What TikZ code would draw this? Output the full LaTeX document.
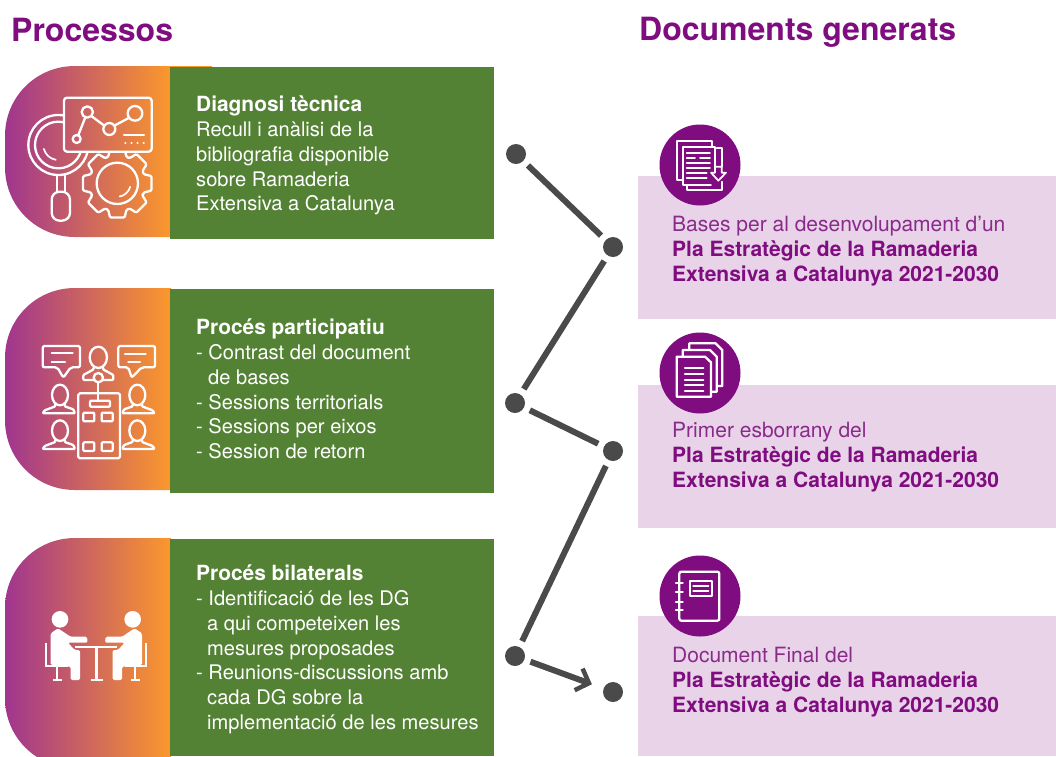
\documentclass[tikz,border=0pt]{standalone}
\usepackage{fontspec}
\setmainfont{TeX Gyre Heros}
\usetikzlibrary{arrows.meta}
\definecolor{purp}{HTML}{800D80}
\definecolor{gradL}{HTML}{A0358F}
\definecolor{gradR}{HTML}{FB982C}
\definecolor{greenb}{HTML}{548235}
\definecolor{pinkb}{HTML}{E8D3E8}
\definecolor{darkc}{HTML}{4A4A4A}
\definecolor{bodyp}{HTML}{8A2A8A}
\newcommand{\bhead}[1]{{\fontsize{20.9}{24.7}\selectfont\bfseries #1}}
\newcommand{\bpl}[1]{{\color{purp}\fontsize{21}{25}\selectfont\bfseries #1}}
\newcommand{\sideperson}{%
    \draw[icon] (0,0) ellipse[x radius=24,y radius=31];
    \draw[icon,rounded corners=1pt] (-14,27) -- (-14,34) -- (-46,46) -- (-52,55) -- (45,55) -- (40,43) -- (14,34) -- (14,27);
}
\newcommand{\sitperson}{%
    \fill[white] (-109,-62) circle[radius=25];
    \fill[white,rounded corners=1.5pt] (-137,-20) -- (-115,-35) -- (-95,-22) -- (-78,-10) -- (-28,-10) -- (-26,8) -- (-85,8) -- (-65,30) -- (-49,30) -- (-49,120) -- (-77,120) -- (-77,80) -- (-137,75) -- cycle;
    \draw[white,line width=1.8pt] (-150,10) -- (-150,78) -- (-85,78);
    \draw[white,line width=1.8pt] (-117,78) -- (-117,120);
    \draw[white,line width=1.8pt] (-130,120) -- (-104,120);
}
\tikzset{
  gradpanel/.style={left color=gradL,right color=gradR,shading angle=90},
  icon/.style={draw=white,line width=2.3pt,line join=round,line cap=round},
  iconthin/.style={draw=white,line width=1.7pt,line join=round,line cap=round},
  dotn/.style={circle,fill=darkc,minimum size=20pt,inner sep=0pt,outer sep=6.5pt},
  conn/.style={draw=darkc,line width=6pt},
  heading/.style={anchor=base west,inner sep=0pt,text=purp,font=\fontsize{32}{36}\selectfont\bfseries},
  greentext/.style={anchor=north west,inner sep=0pt,align=left,text=white,font=\fontsize{20.1}{24.7}\selectfont},
  pinktext/.style={anchor=north west,inner sep=0pt,align=left,text=bodyp,font=\fontsize{21}{25}\selectfont},
}
\begin{document}
\begin{tikzpicture}[x=1pt,y=-1pt]
\useasboundingbox (0,0) rectangle (1056,756);
\clip (0,0) rectangle (1056,756);
\fill[white] (0,0) rectangle (1056,756);

% left gradient panels
\shade[gradpanel] (171,66) -- (75,66) .. controls (36,66) and (5,97) .. (5,136) -- (5,167) .. controls (5,206) and (36,237) .. (75,237) -- (171,237) -- cycle;
\shade[gradpanel] (171,288) -- (75,288) .. controls (36,288) and (5,319) .. (5,358) -- (5,420) .. controls (5,459) and (36,490) .. (75,490) -- (171,490) -- cycle;
\shade[gradpanel] (171,538) -- (75,538) .. controls (36,538) and (5,569) .. (5,608) -- (5,698) .. controls (5,737) and (36,768) .. (75,768) -- (171,768) -- cycle;
\fill[gradR] (170,66) rectangle (212,67);
% green boxes
\fill[greenb] (170,67) rectangle (494,239);
\fill[greenb] (170,289) rectangle (494,493);
\fill[greenb] (170,539) rectangle (494,756);
% pink boxes
\fill[pinkb] (638,176) rectangle (1056,319);
\fill[pinkb] (638,385) rectangle (1056,528);
\fill[pinkb] (638,616) rectangle (1056,756);
% purple discs
\fill[purp] (700,165) circle[radius=40.5];
\fill[purp] (700,373) circle[radius=40.5];
\fill[purp] (700,596) circle[radius=40.5];

% icon 1: chart, magnifier, gear
\begin{scope}[shift={(0,50)},scale=1/3]
  \begin{scope}[even odd rule]
    \clip (0,0) rectangle (600,600) (192,143) rectangle (455,305);
    \begin{scope}[even odd rule]
      \clip (0,0) rectangle (600,600) (175,285) circle[radius=92];
      \begin{scope}[shift={(352,400)}]
      \draw[icon,rounded corners=1.2pt] (-12:105) -- (12:105) -- (19:84) -- (26:84)
        \foreach \a in {45,90,...,315} { -- (\a-19:84) -- (\a-12:105) -- (\a+12:105) -- (\a+19:84)} -- (-19:84) -- cycle;
      \draw[icon] (0,0) circle[radius=62];
      \draw[iconthin] (15:40) arc[start angle=15,end angle=80,radius=40];
      \end{scope}
    \end{scope}
    \draw[icon] (175,285) circle[radius=90];
    \draw[icon] (175,285) circle[radius=70];
    \draw[iconthin] (165:45) ++(175,285) arc[start angle=165,end angle=100,radius=45];
  \end{scope}
  \draw[icon,rounded corners=3pt] (192,143) rectangle (455,305);
  \draw[icon] (172,375) -- (172,425) (195,375) -- (195,425);
  \draw[icon,rounded corners=8pt] (155,425) rectangle (210,512);
  \draw[icon] (230,267) circle[radius=12];
  \draw[icon] (262,186) circle[radius=17];
  \draw[icon] (328,237) circle[radius=18];
  \draw[icon] (405,190) circle[radius=22];
  \draw[icon] (235,255) -- (256,202) (274,198) -- (313,227) (343,227) -- (388,203);
  \draw[icon] (372,255) -- (432,255);
  \draw[icon,dash pattern=on 0.1pt off 6pt] (376,280) -- (432,280);
\end{scope}

% icon 2: meeting
\begin{scope}[shift={(0,280)},scale=1/3]
  \draw[icon,rounded corners=2pt] (128,198) -- (240,198) -- (240,262) -- (212,262) -- (190,293) -- (172,262) -- (128,262) -- cycle;
  \draw[icon] (155,220) -- (218,220) (155,245) -- (195,245);
  \draw[icon,rounded corners=2pt] (355,198) -- (465,198) -- (465,262) -- (425,262) -- (395,293) -- (385,262) -- (355,262) -- cycle;
  \draw[icon] (375,222) -- (437,222) (385,245) -- (420,245);
  \draw[icon] (295,232) ellipse[x radius=26,y radius=32];
  \draw[icon,rounded corners=1pt] (281,262) -- (281,268) -- (250,285) -- (250,300) -- (281,300);
  \draw[icon,rounded corners=1pt] (309,262) -- (309,268) -- (340,285) -- (340,300) -- (309,300);
  \draw[icon] (295,293) circle[radius=14];
  \draw[icon] (295,307) -- (295,362);
  \draw[icon,rounded corners=1.5pt] (235,340) rectangle (360,535);
  \draw[icon,rounded corners=1pt] (270,362) rectangle (330,380);
  \foreach \px/\py in {250/398,305/398,250/487,305/487}
    \draw[icon,rounded corners=1pt] (\px,\py) rectangle +(33,26);
  \begin{scope}[shift={(180,345)}]\sideperson\end{scope}
  \begin{scope}[shift={(180,452)}]\sideperson\end{scope}
  \begin{scope}[shift={(412,345)},xscale=-1]\sideperson\end{scope}
  \begin{scope}[shift={(412,452)},xscale=-1]\sideperson\end{scope}
\end{scope}

% icon 3: two people at a table
\begin{scope}[shift={(0,530)},scale=1/3]
  \begin{scope}[shift={(289,330)}]\sitperson\end{scope}
  \begin{scope}[shift={(289,330)},xscale=-1]\sitperson\end{scope}
  \draw[white,line width=2.2pt] (225,352) -- (352,352);
  \draw[white,line width=3.6pt] (290,352) -- (290,450);
  \draw[white,line width=1.9pt] (272,450) -- (308,450);
\end{scope}

% document icon 1
\begin{scope}[shift={(650,120)},scale=1/3]
  \draw[iconthin] (100,180) -- (82,180) -- (82,62) -- (185,62) -- (185,78);
  \draw[iconthin] (183,195) -- (100,195) -- (100,80) -- (195,80) -- (195,140);
  \draw[iconthin] (200,85) -- (215,85) -- (215,140);
  \draw[iconthin] (215,185) -- (215,210) -- (112,210) -- (112,195);
  \foreach \yy in {100,130,145} \draw[iconthin] (110,\yy) -- (180,\yy);
  \draw[iconthin] (110,115) -- (135,115) (150,115) -- (180,115);
  \draw[iconthin] (110,160) -- (170,160) (110,175) -- (170,175);
  \draw[iconthin] (195,140) -- (215,140) -- (215,158) -- (228,158) -- (205,182) -- (183,158) -- (195,158) -- cycle;
\end{scope}

% document icon 2
\begin{scope}[shift={(650,325)},scale=1/3]
  \draw[icon] (118,72) -- (118,55) -- (197,55) -- (217,75) -- (217,183) -- (202,183);
  \draw[icon] (98,92) -- (98,75) -- (180,75) -- (200,95) -- (200,200) -- (185,200);
  \draw[icon] (80,95) -- (165,95) -- (183,112) -- (183,215) -- (80,215) -- cycle;
  \foreach \yy in {130,147,165,180,197} \draw[icon] (105,\yy) -- (160,\yy);
\end{scope}

% document icon 3
\begin{scope}[shift={(650,550)},scale=1/3]
  \draw[icon,rounded corners=2pt] (88,65) rectangle (208,212);
  \foreach \yy in {100,125,155,180} {
    \draw[icon] (78,\yy) -- (98,\yy);
    \draw[iconthin] (88,\yy-9) -- (88,\yy+9);
  }
  \draw[icon] (120,92) rectangle (185,138);
  \draw[icon] (130,108) -- (175,108) (130,122) -- (175,122);
\end{scope}

% connector dots
\node[dotn] (d1) at (516,154) {};
\node[dotn] (d2) at (613,247) {};
\node[dotn] (d3) at (515,403) {};
\node[dotn] (d4) at (613,451) {};
\node[dotn] (d5) at (515,656) {};
\node[dotn] (d6) at (613,692) {};
\draw[conn] (d1) -- (d2);
\draw[conn] (d2) -- (d3);
\draw[conn] (d3) -- (d4);
\draw[conn] (d4) -- (d5);
\draw[conn,shorten >=6pt,-{Straight Barb[length=11pt,width=23pt,line width=4.5pt]}] (d5) -- (d6);

% headings
\node[heading] (hp) at (11,41) {Processos};
\node[heading] (hd) at (639,40) {Documents generats};

% green texts
\node[greentext] (t1) at (196,96) {\bhead{Diagnosi tècnica}\\Recull i anàlisi de la\\bibliografia disponible\\sobre Ramaderia\\Extensiva a Catalunya};
\node[greentext] (t2) at (196,319) {\bhead{Procés participatiu}\\- Contrast del document\\\hspace*{12pt}de bases\\- Sessions territorials\\- Sessions per eixos\\- Session de retorn};
\node[greentext] (t3) at (196,565) {\bhead{Procés bilaterals}\\- Identificació de les DG\\\hspace*{11pt}a qui competeixen les\\\hspace*{11pt}mesures proposades\\- Reunions-discussions amb\\\hspace*{11pt}cada DG sobre la\\\hspace*{11pt}implementació de les mesures};

% pink texts
\node[pinktext] (p1) at (672,216) {Bases per al desenvolupament d’un\\\bpl{Pla Estratègic de la Ramaderia}\\\bpl{Extensiva a Catalunya 2021-2030}};
\node[pinktext] (p2) at (672,422) {Primer esborrany del\\\bpl{Pla Estratègic de la Ramaderia}\\\bpl{Extensiva a Catalunya 2021-2030}};
\node[pinktext] (p3) at (672,647) {Document Final del\\\bpl{Pla Estratègic de la Ramaderia}\\\bpl{Extensiva a Catalunya 2021-2030}};
\end{tikzpicture}
\end{document}
